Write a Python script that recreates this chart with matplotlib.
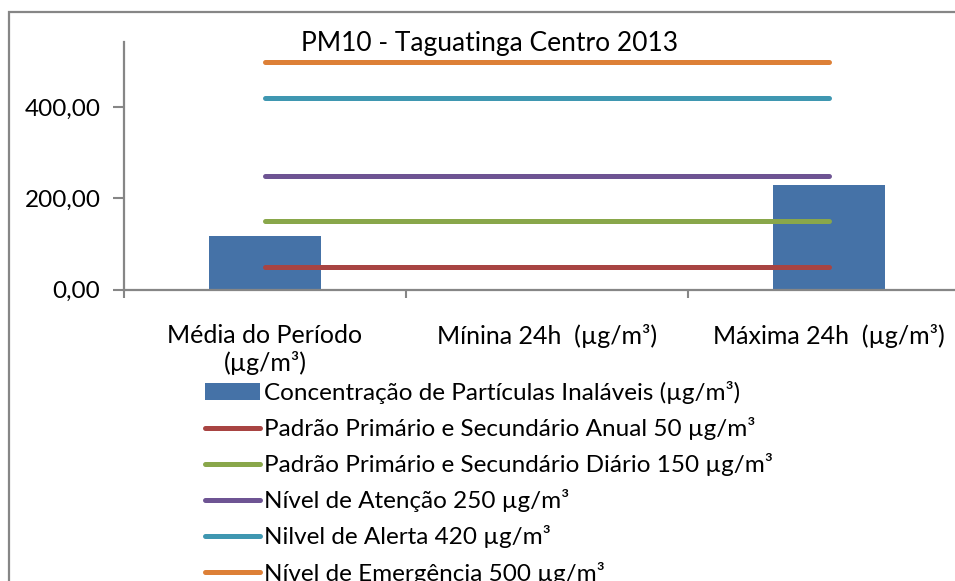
"""PM10 at Taguatinga Centro, 2013: measured concentration against air-quality standards."""
import numpy as np
import matplotlib
matplotlib.use("Agg")
import matplotlib.pyplot as plt
from matplotlib.patches import Rectangle
from matplotlib.ticker import FixedLocator, FuncFormatter

plt.rcParams["font.family"] = ["Lato", "DejaVu Sans"]

CATEGORIES = ["Média do Período\n(µg/m³)", "Mínina 24h  (µg/m³)", "Máxima 24h  (µg/m³)"]
CONCENTRATION = [118, 0, 229.5]
ANUAL = [50, 50, 50]
DIARIO = [150, 150, 150]
ATENCAO = [250, 250, 250]
ALERTA = [420, 420, 420]
EMERGENCIA = [500, 500, 500]

LABELS = [
    "Concentração de Partículas Inaláveis (µg/m³)",
    "Padrão Primário e Secundário Anual 50 µg/m³",
    "Padrão Primário e Secundário Diário 150 µg/m³",
    "Nível de Atenção 250 µg/m³",
    "Nilvel de Alerta 420 µg/m³",
    "Nível de Emergência 500 µg/m³",
]
LINE_SERIES = [ANUAL, DIARIO, ATENCAO, ALERTA, EMERGENCIA]
LINE_COLORS = ["#A84442", "#89A74A", "#6E5493", "#3F97B1", "#DD8037"]
BAR_COLOR = "#4572A7"
GRAY = "#868686"

fig = plt.figure(figsize=(9.55, 5.81), dpi=100)
fig.patches.append(Rectangle((9 / 955, -0.1), 1.2, 1 - 12 / 581 + 0.1,
                             transform=fig.transFigure, fill=False,
                             edgecolor=GRAY, linewidth=1.6))

ax = fig.add_axes([124 / 955, 1 - 289.5 / 581, 846 / 955, (289.5 - 41.7) / 581])
x = np.arange(len(CATEGORIES))

handles = [ax.bar(x, CONCENTRATION, width=0.4, color=BAR_COLOR, zorder=2)]
for values, color in zip(LINE_SERIES, LINE_COLORS):
    line, = ax.plot(x, values, color=color, linewidth=3.6, solid_capstyle="round", zorder=3)
    handles.append(line)

ax.set_xlim(-0.5, 2.5)
ax.set_ylim(0, 544)
ax.set_yticks([0, 200, 400])
ax.yaxis.set_major_formatter(FuncFormatter(lambda v, _: f"{v:.2f}".replace(".", ",")))
ax.set_xticks(x)
ax.set_xticklabels(CATEGORIES)
ax.xaxis.set_minor_locator(FixedLocator([-0.5, 0.5, 1.5, 2.5]))
ax.tick_params(axis="x", which="major", length=0, pad=25, labelsize=18)
ax.tick_params(axis="x", which="minor", length=6, width=1.5, color=GRAY, direction="out")
ax.tick_params(axis="y", length=8, width=1.5, color=GRAY, pad=9, labelsize=17.5)

for side in ["top", "right"]:
    ax.spines[side].set_visible(False)
for side in ["left", "bottom"]:
    ax.spines[side].set_color(GRAY)
    ax.spines[side].set_linewidth(1.6)

fig.text(490 / 955, 1 - 43 / 581, "PM10 - Taguatinga Centro 2013",
         ha="center", va="center", fontsize=19)

fig.legend(handles, LABELS, loc="upper left", bbox_to_anchor=(205 / 955, 1 - 381 / 581),
           frameon=False, fontsize=17.5, handlelength=2.26, handletextpad=0.16,
           labelspacing=0.54, borderaxespad=0, borderpad=0)

fig.savefig("out.png", dpi=100)
